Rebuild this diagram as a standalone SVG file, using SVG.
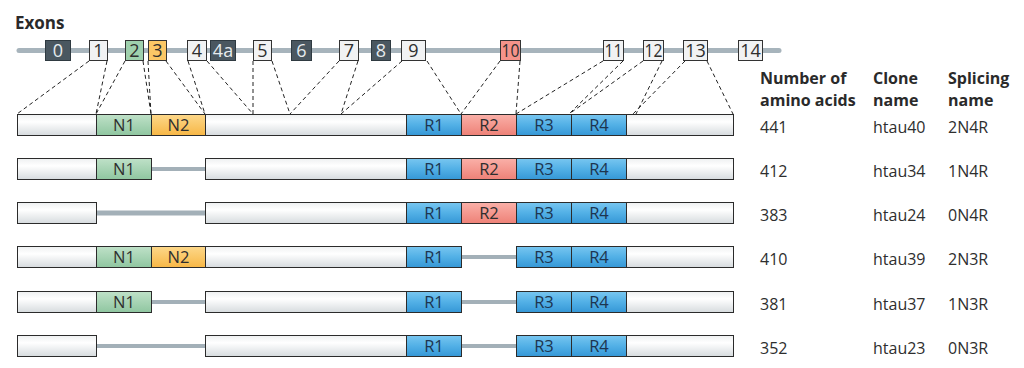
<svg xmlns="http://www.w3.org/2000/svg" width="1024" height="368" viewBox="0 0 1024 368">
<defs>
<linearGradient id="gW" x1="0" y1="0" x2="0" y2="1"><stop offset="0" stop-color="#eef0f1"/><stop offset="0.35" stop-color="#ffffff"/><stop offset="1" stop-color="#d6dbde"/></linearGradient>
<linearGradient id="gB" x1="0" y1="0" x2="0" y2="1"><stop offset="0" stop-color="#78c6f0"/><stop offset="0.5" stop-color="#52b0e6"/><stop offset="1" stop-color="#3597d6"/></linearGradient>
<linearGradient id="gG" x1="0" y1="0" x2="0" y2="1"><stop offset="0" stop-color="#bfe1c8"/><stop offset="1" stop-color="#8fc6a0"/></linearGradient>
<linearGradient id="gO" x1="0" y1="0" x2="0" y2="1"><stop offset="0" stop-color="#fdd88a"/><stop offset="1" stop-color="#f7b746"/></linearGradient>
<linearGradient id="gR" x1="0" y1="0" x2="0" y2="1"><stop offset="0" stop-color="#fab0a8"/><stop offset="1" stop-color="#ee8177"/></linearGradient>
</defs>
<style>
text{font-family:"Open Sans","Noto Sans",sans-serif;fill:#2e2e2e}
.hd{font-weight:bold;font-size:16px;fill:#2a2a2a}
.val{font-size:16px}
.ex{font-size:18px;text-anchor:middle}
.exd{font-size:18px;text-anchor:middle;fill:#e6ebee}
.lb{font-size:16.5px;text-anchor:middle}
.lbB{font-size:16.5px;text-anchor:middle;fill:#1d3550}
.seg{stroke:#2b2b2b;stroke-width:1}
.w{fill:url(#gW)}.b{fill:url(#gB)}.g{fill:url(#gG)}.o{fill:url(#gO)}.r{fill:url(#gR)}
.exw{fill:#f1f2f3;stroke:#333;stroke-width:1}
.exk{fill:#4a5760;stroke:#2f3a41;stroke-width:1}
.gap{stroke:#a3b0b8;stroke-width:4}
.dash{stroke:#222;stroke-width:1;stroke-dasharray:4 3;fill:none}
</style>
<text x="15" y="29" style="font-weight:bold;font-size:17px;fill:#2a2a2a">Exons</text>
<g id="exon-track">
<line x1="19" y1="50.5" x2="779" y2="50.5" stroke="#a7b4bc" stroke-width="5" stroke-linecap="round"/>
</g>
<g id="exons">
<g id="ex0"><rect class="exk" x="45.5" y="40.5" width="25" height="20"/><text class="exd" x="58" y="57">0</text></g>
<g id="ex1"><rect class="exw" x="89.5" y="40.5" width="18" height="20"/><text class="ex" x="98.5" y="57">1</text></g>
<g id="ex2"><rect x="125.5" y="40.5" width="18" height="20" fill="#9fd0ad" stroke="#333"/><text class="ex" x="134.5" y="57">2</text></g>
<g id="ex3"><rect x="148.5" y="40.5" width="18" height="20" fill="#fbc766" stroke="#333"/><text class="ex" x="157.5" y="57">3</text></g>
<g id="ex4"><rect class="exw" x="187.5" y="40.5" width="19" height="20"/><text class="ex" x="197" y="57">4</text></g>
<g id="ex4a"><rect class="exk" x="210.5" y="40.5" width="25" height="20"/><text class="exd" x="223" y="57">4a</text></g>
<g id="ex5"><rect class="exw" x="253.5" y="40.5" width="18" height="20"/><text class="ex" x="262.5" y="57">5</text></g>
<g id="ex6"><rect class="exk" x="291.5" y="40.5" width="20" height="20"/><text class="exd" x="301.5" y="57">6</text></g>
<g id="ex7"><rect class="exw" x="339.5" y="40.5" width="19" height="20"/><text class="ex" x="349" y="57">7</text></g>
<g id="ex8"><rect class="exk" x="371.5" y="40.5" width="19" height="20"/><text class="exd" x="381" y="57">8</text></g>
<g id="ex9"><rect class="exw" x="401.5" y="40.5" width="24" height="20"/><text class="ex" x="413.5" y="57">9</text></g>
<g id="ex10"><rect x="500.5" y="40.5" width="20" height="20" fill="#f4938a" stroke="#333"/><text class="ex" x="510.5" y="57" textLength="18" lengthAdjust="spacingAndGlyphs">10</text></g>
<g id="ex11"><rect class="exw" x="603.5" y="40.5" width="20" height="20"/><text class="ex" x="613.5" y="57" textLength="18" lengthAdjust="spacingAndGlyphs">11</text></g>
<g id="ex12"><rect class="exw" x="643.5" y="40.5" width="20" height="20"/><text class="ex" x="653.5" y="57" textLength="18" lengthAdjust="spacingAndGlyphs">12</text></g>
<g id="ex13"><rect class="exw" x="683.5" y="40.5" width="24" height="20"/><text class="ex" x="695.5" y="57">13</text></g>
<g id="ex14"><rect class="exw" x="738.5" y="40.5" width="24" height="20"/><text class="ex" x="750.5" y="57">14</text></g>
</g>
<g id="connectors">
<line class="dash" x1="89" y1="61" x2="17" y2="114"/>
<line class="dash" x1="107" y1="61" x2="96" y2="114"/>
<line class="dash" x1="125" y1="61" x2="96" y2="114"/>
<line class="dash" x1="143" y1="61" x2="151" y2="114"/>
<line class="dash" x1="148" y1="61" x2="151" y2="114"/>
<line class="dash" x1="166" y1="61" x2="205" y2="114"/>
<line class="dash" x1="188" y1="61" x2="205" y2="114"/>
<line class="dash" x1="207" y1="61" x2="253" y2="114"/>
<line class="dash" x1="253" y1="61" x2="253" y2="114"/>
<line class="dash" x1="272" y1="61" x2="290" y2="114"/>
<line class="dash" x1="339" y1="61" x2="290" y2="114"/>
<line class="dash" x1="358" y1="61" x2="341" y2="114"/>
<line class="dash" x1="402" y1="61" x2="341" y2="114"/>
<line class="dash" x1="427" y1="61" x2="461" y2="114"/>
<line class="dash" x1="500" y1="61" x2="461" y2="114"/>
<line class="dash" x1="520" y1="61" x2="516" y2="114"/>
<line class="dash" x1="603" y1="61" x2="516" y2="114"/>
<line class="dash" x1="623" y1="61" x2="569" y2="114"/>
<line class="dash" x1="643" y1="61" x2="569" y2="114"/>
<line class="dash" x1="662" y1="61" x2="636" y2="114"/>
<line class="dash" x1="685" y1="61" x2="633" y2="114"/>
<line class="dash" x1="707" y1="61" x2="733" y2="114"/>
</g>
<g id="headers">
<text class="hd" x="760" y="84">Number of</text><text class="hd" x="760" y="106">amino acids</text>
<text class="hd" x="873" y="84">Clone</text><text class="hd" x="873" y="106">name</text>
<text class="hd" x="948" y="84">Splicing</text><text class="hd" x="948" y="106">name</text>
</g>
<g id="row-2N4R" transform="translate(0,114)">
<rect class="seg w" x="17.5" y="0.5" width="79" height="21"/>
<rect class="seg g" x="96.5" y="0.5" width="55" height="21"/><text class="lb" x="124" y="17">N1</text>
<rect class="seg o" x="151.5" y="0.5" width="54" height="21"/><text class="lb" x="178.5" y="17">N2</text>
<rect class="seg w" x="205.5" y="0.5" width="201" height="21"/>
<rect class="seg b" x="406.5" y="0.5" width="55" height="21"/><text class="lbB" x="434" y="17">R1</text>
<rect class="seg r" x="461.5" y="0.5" width="55" height="21"/><text class="lb" x="489" y="17">R2</text>
<rect class="seg b" x="516.5" y="0.5" width="55" height="21"/><text class="lbB" x="544" y="17">R3</text>
<rect class="seg b" x="571.5" y="0.5" width="55" height="21"/><text class="lbB" x="599" y="17">R4</text>
<rect class="seg w" x="626.5" y="0.5" width="107" height="21"/>
<text class="val" x="760" y="19">441</text><text class="val" x="873" y="19">htau40</text><text class="val" x="948" y="19">2N4R</text>
</g>
<g id="row-1N4R" transform="translate(0,158)">
<line class="gap" x1="151" y1="11" x2="205" y2="11"/>
<rect class="seg w" x="17.5" y="0.5" width="79" height="21"/>
<rect class="seg g" x="96.5" y="0.5" width="55" height="21"/><text class="lb" x="124" y="17">N1</text>
<rect class="seg w" x="205.5" y="0.5" width="201" height="21"/>
<rect class="seg b" x="406.5" y="0.5" width="55" height="21"/><text class="lbB" x="434" y="17">R1</text>
<rect class="seg r" x="461.5" y="0.5" width="55" height="21"/><text class="lb" x="489" y="17">R2</text>
<rect class="seg b" x="516.5" y="0.5" width="55" height="21"/><text class="lbB" x="544" y="17">R3</text>
<rect class="seg b" x="571.5" y="0.5" width="55" height="21"/><text class="lbB" x="599" y="17">R4</text>
<rect class="seg w" x="626.5" y="0.5" width="107" height="21"/>
<text class="val" x="760" y="19">412</text><text class="val" x="873" y="19">htau34</text><text class="val" x="948" y="19">1N4R</text>
</g>
<g id="row-0N4R" transform="translate(0,202)">
<line class="gap" x1="96" y1="11" x2="205" y2="11" style="stroke-width:5"/>
<rect class="seg w" x="17.5" y="0.5" width="79" height="21"/>
<rect class="seg w" x="205.5" y="0.5" width="201" height="21"/>
<rect class="seg b" x="406.5" y="0.5" width="55" height="21"/><text class="lbB" x="434" y="17">R1</text>
<rect class="seg r" x="461.5" y="0.5" width="55" height="21"/><text class="lb" x="489" y="17">R2</text>
<rect class="seg b" x="516.5" y="0.5" width="55" height="21"/><text class="lbB" x="544" y="17">R3</text>
<rect class="seg b" x="571.5" y="0.5" width="55" height="21"/><text class="lbB" x="599" y="17">R4</text>
<rect class="seg w" x="626.5" y="0.5" width="107" height="21"/>
<text class="val" x="760" y="19">383</text><text class="val" x="873" y="19">htau24</text><text class="val" x="948" y="19">0N4R</text>
</g>
<g id="row-2N3R" transform="translate(0,246)">
<line class="gap" x1="461" y1="11" x2="516" y2="11"/>
<rect class="seg w" x="17.5" y="0.5" width="79" height="21"/>
<rect class="seg g" x="96.5" y="0.5" width="55" height="21"/><text class="lb" x="124" y="17">N1</text>
<rect class="seg o" x="151.5" y="0.5" width="54" height="21"/><text class="lb" x="178.5" y="17">N2</text>
<rect class="seg w" x="205.5" y="0.5" width="201" height="21"/>
<rect class="seg b" x="406.5" y="0.5" width="55" height="21"/><text class="lbB" x="434" y="17">R1</text>
<rect class="seg b" x="516.5" y="0.5" width="55" height="21"/><text class="lbB" x="544" y="17">R3</text>
<rect class="seg b" x="571.5" y="0.5" width="55" height="21"/><text class="lbB" x="599" y="17">R4</text>
<rect class="seg w" x="626.5" y="0.5" width="107" height="21"/>
<text class="val" x="760" y="19">410</text><text class="val" x="873" y="19">htau39</text><text class="val" x="948" y="19">2N3R</text>
</g>
<g id="row-1N3R" transform="translate(0,291)">
<line class="gap" x1="151" y1="11" x2="205" y2="11"/>
<line class="gap" x1="461" y1="11" x2="516" y2="11"/>
<rect class="seg w" x="17.5" y="0.5" width="79" height="21"/>
<rect class="seg g" x="96.5" y="0.5" width="55" height="21"/><text class="lb" x="124" y="17">N1</text>
<rect class="seg w" x="205.5" y="0.5" width="201" height="21"/>
<rect class="seg b" x="406.5" y="0.5" width="55" height="21"/><text class="lbB" x="434" y="17">R1</text>
<rect class="seg b" x="516.5" y="0.5" width="55" height="21"/><text class="lbB" x="544" y="17">R3</text>
<rect class="seg b" x="571.5" y="0.5" width="55" height="21"/><text class="lbB" x="599" y="17">R4</text>
<rect class="seg w" x="626.5" y="0.5" width="107" height="21"/>
<text class="val" x="760" y="19">381</text><text class="val" x="873" y="19">htau37</text><text class="val" x="948" y="19">1N3R</text>
</g>
<g id="row-0N3R" transform="translate(0,335)">
<line class="gap" x1="96" y1="11" x2="205" y2="11"/>
<line class="gap" x1="461" y1="11" x2="516" y2="11"/>
<rect class="seg w" x="17.5" y="0.5" width="79" height="21"/>
<rect class="seg w" x="205.5" y="0.5" width="201" height="21"/>
<rect class="seg b" x="406.5" y="0.5" width="55" height="21"/><text class="lbB" x="434" y="17">R1</text>
<rect class="seg b" x="516.5" y="0.5" width="55" height="21"/><text class="lbB" x="544" y="17">R3</text>
<rect class="seg b" x="571.5" y="0.5" width="55" height="21"/><text class="lbB" x="599" y="17">R4</text>
<rect class="seg w" x="626.5" y="0.5" width="107" height="21"/>
<text class="val" x="760" y="19">352</text><text class="val" x="873" y="19">htau23</text><text class="val" x="948" y="19">0N3R</text>
</g>
</svg>
